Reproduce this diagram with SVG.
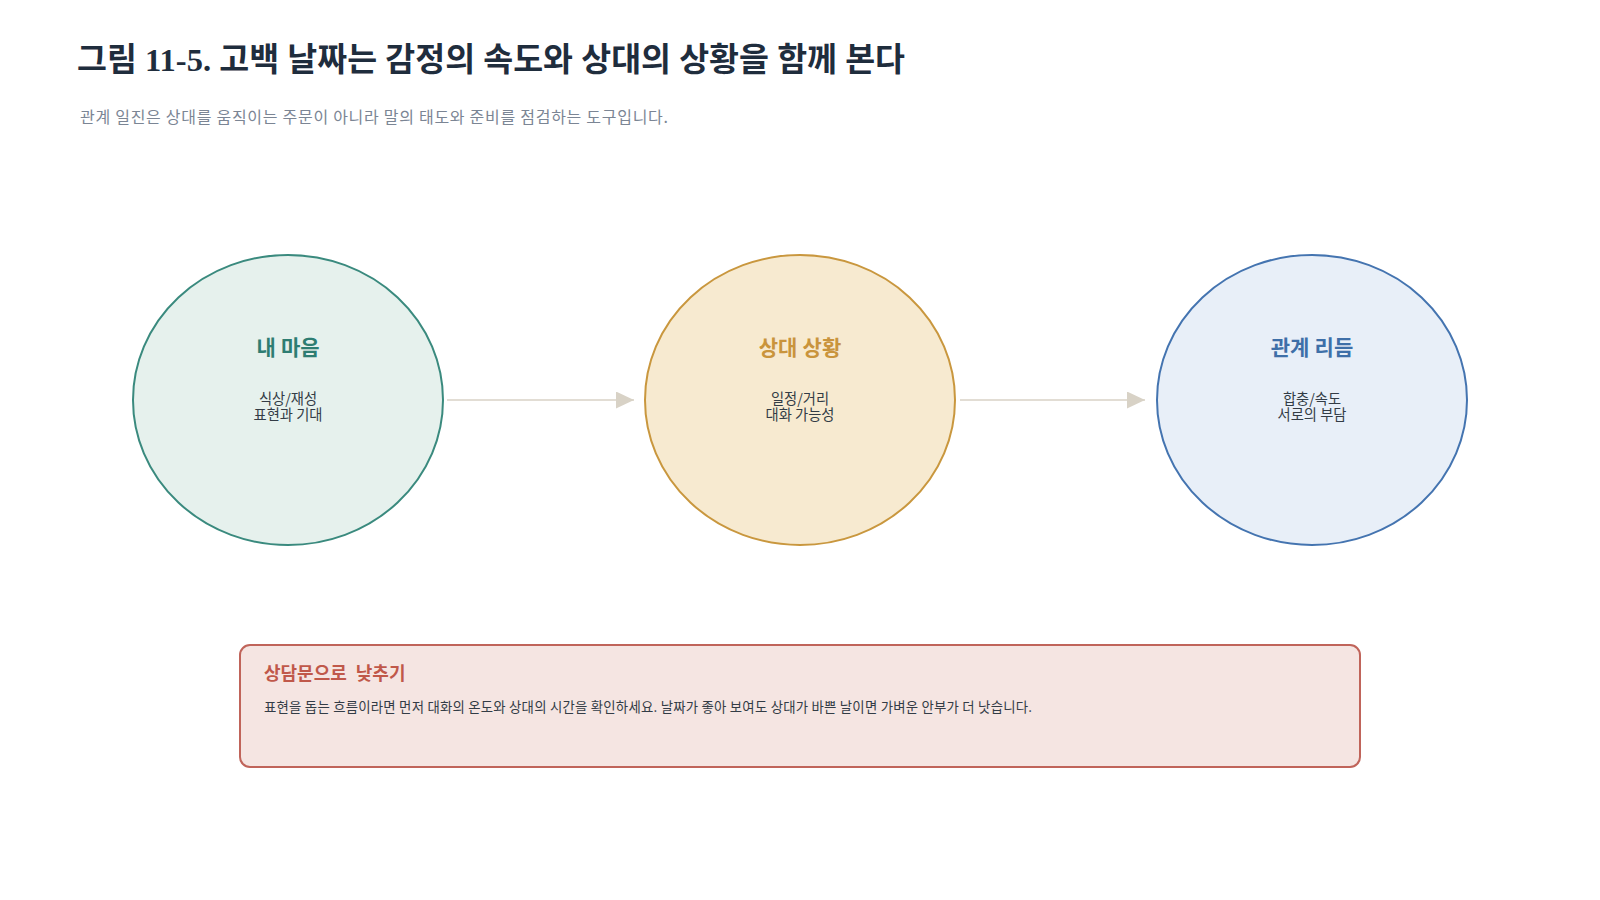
<svg xmlns="http://www.w3.org/2000/svg" width="1600" height="900" viewBox="0 0 1600 900">
  <defs>
    <style>
      .title { font-family: "Liberation Serif", "Noto Sans CJK KR", serif; font-weight: 700; font-size: 32.5px; fill: #1f2d3d; }
      .subtitle { font-family: "Noto Sans CJK KR", "Noto Sans", sans-serif; font-size: 16px; fill: #7b8594; }
      .node-title { font-family: "Liberation Serif", "Noto Sans CJK KR", serif; font-weight: 700; font-size: 21px; text-anchor: middle; }
      .node-sub { font-family: "Noto Sans CJK KR", "Noto Sans", sans-serif; font-size: 14.3px; fill: #333c46; text-anchor: middle; }
      .node-shape { stroke-width: 2; }
      .connector { stroke: #d8d2c6; stroke-width: 1.5; fill: none; }
      .note-title { font-family: "Liberation Serif", "Noto Sans CJK KR", serif; font-weight: 700; font-size: 18px; fill: #c0584a; }
      .note-body { font-family: "Noto Sans CJK KR", "Noto Sans", sans-serif; font-size: 13.4px; fill: #333c46; }
    </style>
    <marker id="arrowhead" markerUnits="userSpaceOnUse" markerWidth="18" markerHeight="17" refX="18" refY="8.5" orient="auto">
      <path d="M0,0 L18,8.5 L0,17 Z" fill="#d8d2c6"/>
    </marker>
  </defs>

  <rect x="0" y="0" width="1600" height="900" fill="#ffffff"/>

  <text class="title" x="77" y="71" textLength="828" lengthAdjust="spacing">그림 11-5. 고백 날짜는 감정의 속도와 상대의 상황을 함께 본다</text>
  <text class="subtitle" x="80" y="123" textLength="588" lengthAdjust="spacing">관계 일진은 상대를 움직이는 주문이 아니라 말의 태도와 준비를 점검하는 도구입니다.</text>

  <g id="connectors">
    <line class="connector" x1="447" y1="400" x2="634" y2="400" marker-end="url(#arrowhead)"/>
    <line class="connector" x1="960" y1="400" x2="1145" y2="400" marker-end="url(#arrowhead)"/>
  </g>

  <g id="node-my-heart">
    <ellipse class="node-shape" cx="288" cy="400" rx="155" ry="145" fill="#e6f1ed" stroke="#3a8a7e"/>
    <text class="node-title" x="288" y="355" fill="#2e7d72">내 마음</text>
    <text class="node-sub" x="288" y="403.5"><tspan x="288" y="403.5">식상/재성</tspan><tspan x="288" y="420">표현과 기대</tspan></text>
  </g>

  <g id="node-partner">
    <ellipse class="node-shape" cx="800" cy="400" rx="155" ry="145" fill="#f7ead0" stroke="#c9973e"/>
    <text class="node-title" x="800" y="355" fill="#c9943c">상대 상황</text>
    <text class="node-sub" x="800" y="403.5"><tspan x="800" y="403.5">일정/거리</tspan><tspan x="800" y="420">대화 가능성</tspan></text>
  </g>

  <g id="node-rhythm">
    <ellipse class="node-shape" cx="1312" cy="400" rx="155" ry="145" fill="#e8eff8" stroke="#4474b0"/>
    <text class="node-title" x="1312" y="355" fill="#3e6fa8">관계 리듬</text>
    <text class="node-sub" x="1312" y="403.5"><tspan x="1312" y="403.5">합충/속도</tspan><tspan x="1312" y="420">서로의 부담</tspan></text>
  </g>

  <g id="note">
    <rect x="240" y="645" width="1120" height="122" rx="10" ry="10" fill="#f5e5e2" stroke="#c0645a" stroke-width="2"/>
    <text class="note-title" x="264" y="680" xml:space="preserve">상담문으로  낮추기</text>
    <text class="note-body" x="264" y="712" textLength="768" lengthAdjust="spacing">표현을 돕는 흐름이라면 먼저 대화의 온도와 상대의 시간을 확인하세요. 날짜가 좋아 보여도 상대가 바쁜 날이면 가벼운 안부가 더 낫습니다.</text>
  </g>
</svg>
